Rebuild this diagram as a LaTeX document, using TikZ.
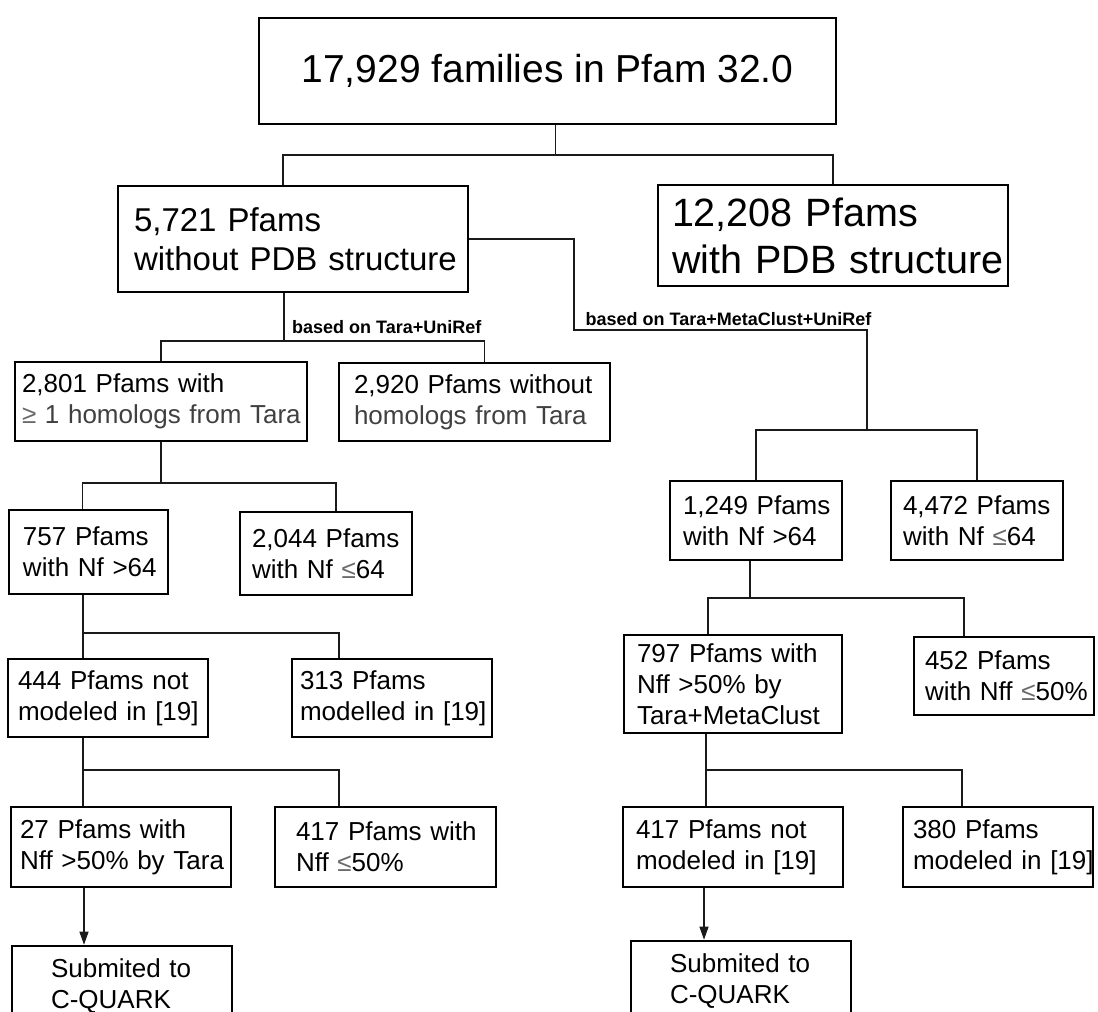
\documentclass[tikz,border=0pt]{standalone}
\usepackage{fontspec}
\setmainfont{Liberation Sans}
\usetikzlibrary{arrows.meta,calc}
\definecolor{tgray}{HTML}{404040}
\definecolor{sgray}{HTML}{6A6A6A}
\definecolor{cline}{HTML}{1A1A1A}
\newcommand\fT{\fontsize{39}{46}\selectfont}
\newcommand\fA{\fontsize{33}{38.6}\selectfont}
\newcommand\fB{\fontsize{39.5}{47}\selectfont}
\newcommand\fS{\fontsize{26}{31.2}\selectfont}
\newcommand\fL{\fontsize{18}{21}\selectfont\bfseries}
\newcommand\sle{{\color{sgray}≤}}
\newcommand\sge{{\color{sgray}≥}}
\tikzset{
  bx/.style={draw=black, line width=2.6pt, inner ysep=0pt, align=left, fill=white},
  conn/.style={line width=1.2pt, draw=cline},
  lbl/.style={font=\fL, inner sep=0pt, anchor=base west},
  arr/.style={conn, -{Triangle[length=13pt,width=9pt]}}
}
% \boxnode{name}{x1}{x2}{y1}{y2}{pad}{font}{text}
\newcommand\boxnode[8]{%
  \pgfmathsetmacro\bw{#3-#2}\pgfmathsetmacro\bh{#5-#4}%
  \pgfmathsetmacro\bcx{(#2+#3)/2}\pgfmathsetmacro\bcy{(#4+#5)/2}%
  \pgfmathsetmacro\tw{\bw-2*#6}%
  \node[bx, inner xsep=#6pt, minimum width=\bw pt, minimum height=\bh pt,
        text width=\tw pt, font=#7] (#1) at (\bcx,\bcy) {#8};}
\begin{document}
\begin{tikzpicture}[x=1pt,y=-1pt]
\useasboundingbox (0,0) rectangle (1098,1012);
\clip (0,0) rectangle (1098,1012);
\fill[white] (0,0) rectangle (1098,1012);

% turn points of the connectors
\coordinate (t1) at (555.5,155);
\coordinate (r1) at (574,330);
\coordinate (r2) at (867,430);
\coordinate (l1) at (284,341);
\coordinate (l2) at (161,483);
\coordinate (l3) at (83,633);
\coordinate (l4) at (83,770);
\coordinate (r3) at (750,598);
\coordinate (r4) at (706,770);

% boxes
\node[bx, minimum width=577pt, minimum height=106pt, font=\fT, align=center] (T) at (547.5,71) {17,929 families in Pfam 32.0};
\boxnode{A}{118}{468}{186}{292}{16}{\fA}{\mbox{5,721 Pfams}\\\mbox{without PDB structure}}
\boxnode{B}{658}{1008}{185}{286}{14}{\fB}{\mbox{12,208 Pfams}\\\mbox{with PDB structure}}
\boxnode{n2801}{15}{307}{362}{441}{7}{\fS}{\mbox{2,801 Pfams with}\\\mbox{\color{tgray}\sge{} 1 homologs from Tara}}
\boxnode{n2920}{339}{610}{363}{441}{15}{\fS}{\mbox{2,920 Pfams without}\\\mbox{\color{tgray}homologs from Tara}}
\boxnode{n757}{9}{168}{510}{594}{14}{\fS}{\mbox{757 Pfams}\\\mbox{with Nf >64}}
\boxnode{n2044}{240}{412}{512}{595}{12}{\fS}{\mbox{2,044 Pfams}\\\mbox{with Nf \sle64}}
\boxnode{n444}{8}{208}{659}{737}{10}{\fS}{\mbox{444 Pfams not}\\\mbox{modeled in [19]}}
\boxnode{n313}{292}{492}{659}{737}{8}{\fS}{\mbox{313 Pfams}\\\mbox{modelled in [19]}}
\boxnode{n27}{11}{231}{807}{887}{9}{\fS}{\mbox{27 Pfams with}\\\mbox{Nff >50\% by Tara}}
\boxnode{n417L}{275}{496}{807}{887}{21}{\fS}{\mbox{417 Pfams with}\\\mbox{Nff \sle50\%}}
\boxnode{nSubL}{12}{232}{946}{1026}{39}{\fS}{\mbox{Submited to}\\\mbox{C-QUARK}}
\boxnode{n1249}{670}{842}{481}{560}{13}{\fS}{\mbox{1,249 Pfams}\\\mbox{with Nf >64}}
\boxnode{n4472}{891}{1063}{481}{560}{12}{\fS}{\mbox{4,472 Pfams}\\\mbox{with Nf \sle64}}
\boxnode{n797}{624}{842}{635}{733}{13}{\fS}{\mbox{797 Pfams with}\\\mbox{Nff >50\% by}\\\mbox{Tara+MetaClust}}
\boxnode{n452}{914}{1094}{637}{715}{11}{\fS}{\mbox{452 Pfams}\\\mbox{with Nff \sle50\%}}
\boxnode{n417R}{623}{843}{807}{887}{13}{\fS}{\mbox{417 Pfams not}\\\mbox{modeled in [19]}}
\boxnode{n380}{903}{1093}{807}{887}{10}{\fS}{\mbox{380 Pfams}\\\mbox{modeled in [19]}}
\boxnode{nSubR}{631}{851}{941}{1021}{39}{\fS}{\mbox{Submited to}\\\mbox{C-QUARK}}

% labels
\node[lbl] (labL) at (292,333) {based on Tara+UniRef};
\node[lbl] (labR) at (585.5,325.5) {based on Tara+MetaClust+UniRef};

% connectors
\draw[conn] ([xshift=8pt]T.south) -- (t1);
\draw[conn] ([xshift=-10pt]A.north) |- (t1) -| (B.north);
\draw[conn] (A.east) -| (r1) -| (r2);
\draw[conn] (n1249.north) |- (r2) -| (n4472.north);
\draw[conn] ([xshift=-9pt]A.south) -- (l1);
\draw[conn] (n2801.north) |- (l1) -| ([xshift=10pt]n2920.north);
\draw[conn] (n2801.south) -- (l2);
\draw[conn] ([xshift=-6pt]n757.north) |- (l2) -| ([xshift=10pt]n2044.north);
\draw[conn] ([xshift=-5.5pt]n757.south) -- (l3);
\draw[conn] ([xshift=-25pt]n444.north) |- (l3) -| ([xshift=-53pt]n313.north);
\draw[conn] ([xshift=-25pt]n444.south) -- (l4);
\draw[conn] ([xshift=-38pt]n27.north) |- (l4) -| ([xshift=-46.5pt]n417L.north);
\draw[arr] ([xshift=-37pt]n27.south) -- ([xshift=-37pt]n27.south |- nSubL.north);
\draw[conn] ([xshift=-6pt]n1249.south) -- (r3);
\draw[conn] ([xshift=-25pt]n797.north) |- (r3) -| ([xshift=-40pt]n452.north);
\draw[conn] ([xshift=-27pt]n797.south) -- (r4);
\draw[conn] ([xshift=-27pt]n417R.north) |- (r4) -| ([xshift=-36pt]n380.north);
\draw[arr] ([xshift=-29pt]n417R.south) -- ([xshift=-29pt]n417R.south |- nSubR.north);
\end{tikzpicture}
\end{document}
